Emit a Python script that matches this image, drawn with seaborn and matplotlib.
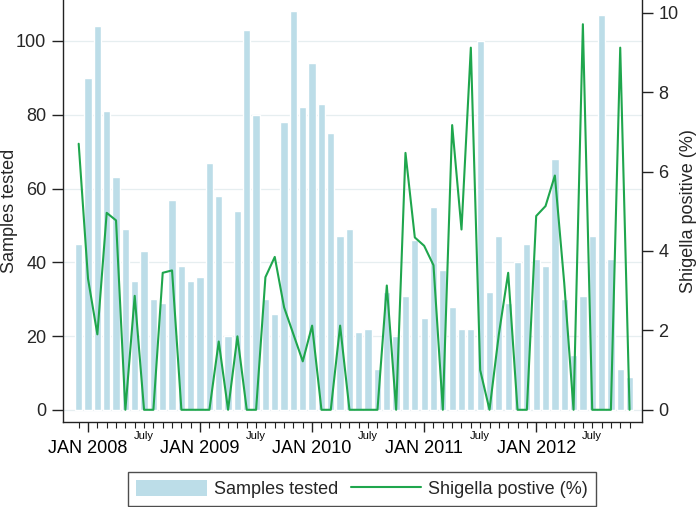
import numpy as np
import pandas as pd
import matplotlib
matplotlib.use("Agg")
import matplotlib.pyplot as plt
from matplotlib.patches import Patch
from matplotlib.lines import Line2D
from matplotlib.ticker import FixedLocator, FixedFormatter, FuncFormatter
import seaborn as sns

# ---- data -------------------------------------------------------------
months = [str(p) for p in pd.period_range("2007-12", periods=60, freq="M")]

samples_tested = [45, 90, 104, 81, 63, 49, 35, 43, 30, 29,
                  57, 39, 35, 36, 67, 58, 20, 54, 103, 80,
                  30, 26, 78, 108, 82, 94, 83, 75, 47, 49,
                  21, 22, 11, 32, 20, 31, 46, 25, 55, 38,
                  28, 22, 22, 100, 32, 47, 29, 40, 45, 41,
                  39, 68, 30, 15, 31, 47, 107, 41, 11, 9]

shigella_pct = [6.7, 3.3, 1.9, 4.96, 4.77, 0, 2.87, 0, 0, 3.45,
                3.51, 0, 0, 0, 0, 1.72, 0, 1.85, 0, 0,
                3.34, 3.85, 2.58, 1.9, 1.22, 2.12, 0, 0, 2.12, 0,
                0, 0, 0, 3.13, 0, 6.47, 4.34, 4.13, 3.64, 0,
                7.17, 4.54, 9.12, 1.0, 0, 1.9, 3.45, 0, 0, 4.88,
                5.13, 5.9, 3.2, 0, 9.71, 0, 0, 0, 9.12, 0]

major_pos = [1, 13, 25, 37, 49]
major_labels = ["JAN 2008", "JAN 2009", "JAN 2010", "JAN 2011", "JAN 2012"]
minor_label = "July"

left_ticks = [0, 20, 40, 60, 80, 100]
right_ticks = [0, 2, 4, 6, 8, 10]

# ---- style ------------------------------------------------------------
sns.set_style("ticks")
plt.rcParams["font.family"] = ["Liberation Sans", "DejaVu Sans"]

bar_color = "#bcdde8"
line_color = "#1fa64d"
ink = "#222222"

fig = plt.figure(figsize=(6.99, 5.07), dpi=100)
ax = fig.add_axes([63 / 699, 1 - 421.7 / 507, (641.7 - 63) / 699, 421.7 / 507])

df = pd.DataFrame({"month": months, "samples": samples_tested,
                   "pos": np.arange(len(months)), "pct": shigella_pct})

sns.barplot(data=df, x="month", y="samples", color=bar_color, saturation=1,
            width=0.78, errorbar=None, ax=ax, zorder=2)

ax2 = ax.twinx()
sns.lineplot(data=df, x="pos", y="pct", color=line_color, linewidth=1.5,
             ax=ax2, zorder=3)

# limits
ax.set_xlim(-1.68, 60.3)
ax.set_ylim(-3.2, 111.1)
ax2.set_ylim(-0.3, 10.32)

# grid
ax.set_axisbelow(True)
ax.yaxis.grid(True, color="#e6eef0", linewidth=0.9)
ax.xaxis.grid(False)
ax2.grid(False)

# x ticks
ax.xaxis.set_major_locator(FixedLocator(major_pos))
ax.xaxis.set_major_formatter(FixedFormatter(major_labels))
ax.xaxis.set_minor_locator(FixedLocator(list(range(len(months)))))
ax.xaxis.set_minor_formatter(FuncFormatter(
    lambda x, pos: minor_label if int(round(x)) % 12 == 7 else ""))
ax.tick_params(axis="x", which="major", length=7, width=1, color=ink,
               labelsize=13, pad=6, labelcolor="black")
ax.tick_params(axis="x", which="minor", length=4, width=0.8, color=ink,
               labelsize=8, pad=3, labelcolor="black")

# y ticks
ax.set_yticks(left_ticks)
ax.set_yticklabels([str(t) for t in left_ticks])
ax.tick_params(axis="y", length=8, width=1, color=ink, labelsize=13, pad=4)
ax2.set_yticks(right_ticks)
ax2.set_yticklabels([str(t) for t in right_ticks])
ax2.tick_params(axis="y", length=8, width=1, color=ink, labelsize=13, pad=4)

ax.set_xlabel("")
ax.set_ylabel("Samples tested", fontsize=13)
ax.yaxis.set_label_coords(-0.078, 0.5)
ax2.set_xlabel("")
ax2.set_ylabel("Shigella positive (%)", fontsize=13)
ax2.yaxis.set_label_coords(1.066, 0.5)

# spines
for a in (ax, ax2):
    a.spines["top"].set_visible(False)
ax.spines["right"].set_visible(False)
ax2.spines["left"].set_visible(False)
ax2.spines["bottom"].set_visible(False)
for s in (ax.spines["left"], ax.spines["bottom"], ax2.spines["right"]):
    s.set_color(ink)
    s.set_linewidth(1)

# legend
handles = [Patch(facecolor=bar_color, edgecolor="none"),
           Line2D([0], [0], color=line_color, linewidth=1.5)]
leg = fig.legend(handles, ["Samples tested", "Shigella postive (%)"],
                 loc="center", bbox_to_anchor=(0.518, 1 - 489 / 507),
                 ncol=2, fontsize=13, frameon=True, fancybox=False,
                 handlelength=3.9, handleheight=1.0, handletextpad=0.4,
                 columnspacing=0.7, borderpad=0.45)
leg.get_frame().set_edgecolor(ink)
leg.get_frame().set_linewidth(1)

fig.savefig("out.png", dpi=100)
